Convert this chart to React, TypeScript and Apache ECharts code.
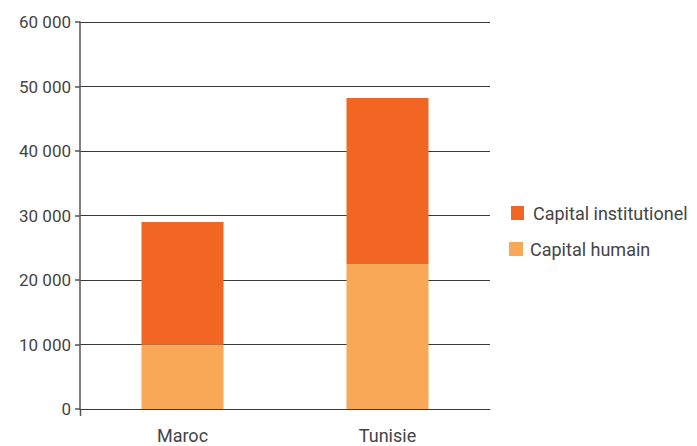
import React, { useEffect, useRef } from "react";
import * as echarts from "echarts";

const categories = ["Maroc", "Tunisie"];
const capitalHumain = [10000, 22500];
const capitalInstitutionel = [19000, 25700];
const seriesNames = ["Capital institutionel", "Capital humain"];

const DARK = "#F26623";
const LIGHT = "#F8A856";
const TEXT = "#444444";
const FONT = "Roboto";

export default function App() {
  const ref = useRef<HTMLDivElement>(null);
  useEffect(() => {
    if (!ref.current) return;
    const chart = echarts.init(ref.current, null, { renderer: "svg" });
    chart.setOption({
      animation: false,
      textStyle: { fontFamily: FONT },
      grid: { left: 80, right: 207, top: 22, bottom: 37, containLabel: false },
      legend: [
        {
          data: [seriesNames[0]],
          left: 506,
          top: 199,
          itemWidth: 13,
          itemHeight: 14,
          icon: "rect",
          textStyle: { color: TEXT, fontSize: 18, fontFamily: FONT, padding: [0, 0, 0, 4] },
        },
        {
          data: [seriesNames[1]],
          left: 504,
          top: 235,
          itemWidth: 14,
          itemHeight: 14,
          icon: "rect",
          textStyle: { color: TEXT, fontSize: 18, fontFamily: FONT, padding: [9, 0, 0, 2] },
        },
      ],
      xAxis: {
        type: "category",
        data: categories,
        axisLine: { show: true, lineStyle: { color: "#3a3a3a", width: 1 } },
        axisTick: { show: false },
        axisLabel: { color: TEXT, fontSize: 18, margin: 17, fontFamily: FONT },
      },
      yAxis: {
        type: "value",
        min: 0,
        max: 60000,
        interval: 10000,
        axisLine: { show: true, lineStyle: { color: "#555555", width: 1.5 } },
        axisTick: { show: true, length: 5, lineStyle: { color: "#555555", width: 1.5 } },
        axisLabel: {
          color: TEXT,
          fontSize: 17,
          margin: 9,
          fontFamily: FONT,
          formatter: (v: number) => String(v).replace(/\B(?=(\d{3})+(?!\d))/g, " "),
        },
        splitLine: { show: true, lineStyle: { color: "#3a3a3a", width: 1 } },
      },
      graphic: [
        {
          type: "line",
          shape: { x1: 80.5, y1: 409, x2: 80.5, y2: 416 },
          style: { stroke: "#555555", lineWidth: 1.5 },
        },
      ],
      series: [
        {
          name: seriesNames[1],
          type: "bar",
          stack: "total",
          data: capitalHumain,
          barWidth: "40%",
          itemStyle: { color: LIGHT },
        },
        {
          name: seriesNames[0],
          type: "bar",
          stack: "total",
          data: capitalInstitutionel,
          barWidth: "40%",
          itemStyle: { color: DARK },
        },
      ],
    });
    return () => chart.dispose();
  }, []);
  return <div ref={ref} style={{ width: 697, height: 446, position: "absolute", left: 0, top: 0 }} />;
}
